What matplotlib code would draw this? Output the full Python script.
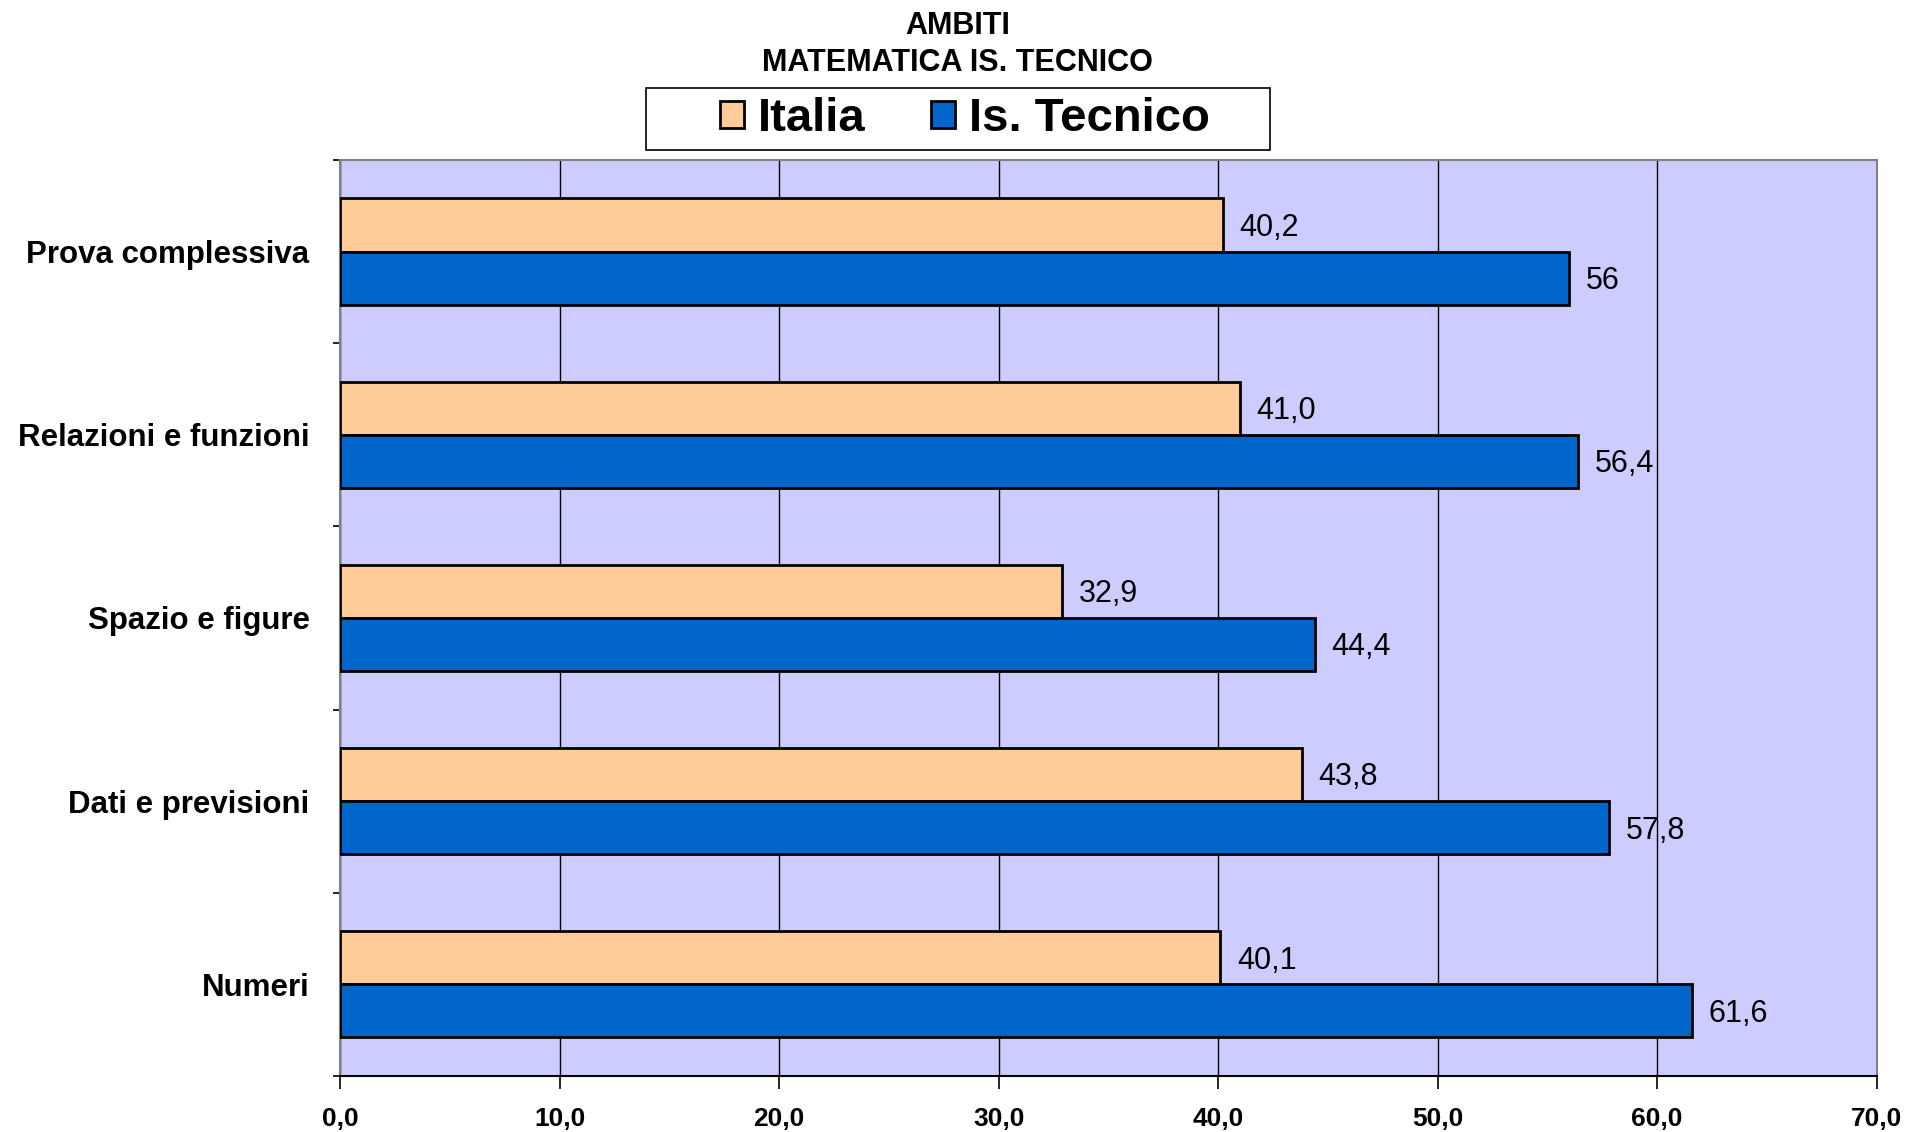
import matplotlib
matplotlib.use("Agg")
import matplotlib.pyplot as plt
from matplotlib.patches import Rectangle
import numpy as np

# ambiti di matematica, dal basso verso l'alto
categories = ["Numeri", "Dati e previsioni", "Spazio e figure",
              "Relazioni e funzioni", "Prova complessiva"]
italia = [40.1, 43.8, 32.9, 41.0, 40.2]
tecnico = [61.6, 57.8, 44.4, 56.4, 56]
series_names = ["Italia", "Is. Tecnico"]
xticks = [0, 10, 20, 30, 40, 50, 60, 70]

plt.rcParams['font.family'] = ['Liberation Sans', 'DejaVu Sans']

def fmt(v):
    return str(v).replace('.', ',')

fig = plt.figure(figsize=(19.11, 11.32), dpi=100)
ax = fig.add_axes([0.178, 0.0495, 0.804, 0.8092])
ax.set_facecolor('#CCCCFF')

y = np.arange(len(categories))
h = 0.29
b1 = ax.barh(y + h / 2, italia, height=h, color='#FFCC99', edgecolor='black',
             linewidth=2, label=series_names[0], zorder=3)
b2 = ax.barh(y - h / 2, tecnico, height=h, color='#0066CC', edgecolor='black',
             linewidth=2, label=series_names[1], zorder=3)

for bars, vals in [(b1, italia), (b2, tecnico)]:
    for bar, v in zip(bars, vals):
        ax.annotate(fmt(v), (v, bar.get_y() + bar.get_height() / 2),
                    xytext=(12, -2), textcoords='offset points',
                    va='center', ha='left', fontsize=22)

ax.set_xlim(0, 70)
ax.set_ylim(-0.5, len(categories) - 0.5)
ax.set_xticks(xticks)
ax.set_xticklabels([f"{t:.1f}".replace('.', ',') for t in xticks],
                   fontsize=19, fontweight='bold')
ax.tick_params(axis='x', direction='out', length=9, width=1.2, pad=13)
ax.set_yticks(y)
ax.set_yticklabels(categories, fontsize=22.5, fontweight='bold')
ax.tick_params(axis='y', which='major', length=0, pad=22)
ax.set_yticks(np.arange(-0.5, len(categories)), minor=True)
ax.tick_params(axis='y', which='minor', direction='out', length=5, width=1.2)

ax.grid(axis='x', color='black', linewidth=1, zorder=1)
for s in ['top', 'right', 'left']:
    ax.spines[s].set_color('#808080')
    ax.spines[s].set_linewidth(1.5)
ax.spines['bottom'].set_color('black')
ax.spines['bottom'].set_linewidth(1.5)

fig.text(0.501, 0.977, "AMBITI", ha='center', va='center', fontsize=22,
         fontweight='bold')
fig.text(0.501, 0.944, "MATEMATICA IS. TECNICO", ha='center', va='center',
         fontsize=22, fontweight='bold')

# riquadro della legenda
fig.patches.append(Rectangle((0.338, 0.8675), 0.3265, 0.0548,
                             transform=fig.transFigure, facecolor='white',
                             edgecolor='black', linewidth=1.2, zorder=0))
leg = fig.legend(handles=[b1, b2], labels=series_names, loc='center',
                 bbox_to_anchor=(0.505, 0.895), ncol=2,
                 prop={'size': 34, 'weight': 'bold'}, frameon=False,
                 handlelength=0.5, handleheight=0.5, handletextpad=0.3,
                 columnspacing=1.4, borderpad=0, borderaxespad=0)

fig.savefig("out.png", dpi=100)
